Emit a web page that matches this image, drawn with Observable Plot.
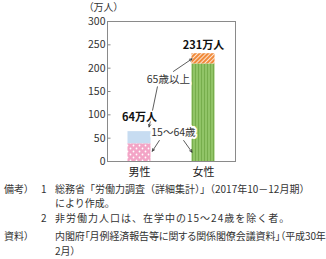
<!DOCTYPE html>
<html><head><meta charset="utf-8">
<script src="https://cdn.jsdelivr.net/npm/d3@7"></script>
<script src="https://cdn.jsdelivr.net/npm/@observablehq/plot@0.6"></script>
<style>
html,body{margin:0;padding:0;background:#fff;}
body{width:326px;height:259px;overflow:hidden;font-family:"Noto Sans CJK JP","Noto Sans",sans-serif;color:#333;}
#wrap{position:relative;width:326px;height:259px;}
.fn{position:absolute;font-size:10px;line-height:11px;white-space:nowrap;color:#333;}
.palt{font-feature-settings:"palt";}
svg text{font-feature-settings:"palt";}
</style></head>
<body><div id="wrap"><div id="chart"></div></div>
<script>
const categories = ["男性", "女性"];
const age1564 = [38, 209];
const age65plus = [26, 22];
const totals = [64, 231];
const totalLabels = ["64万人", "231万人"];
const totalLabelY = [94, 248];
const yTicks = [0, 50, 100, 150, 200, 250, 300];
const groupLabels = [
  {text: "65歳以上", x: 0.95, y: 176},
  {text: "15～64歳", x: 1.03, y: 62}
];
const arrows = [
  {x1: 1.03, y1: 193, x2: 1.32, y2: 220},
  {x1: 0.78, y1: 160, x2: 0.65, y2: 74},
  {x1: 0.81, y1: 45, x2: 0.70, y2: 22},
  {x1: 1.19, y1: 45, x2: 1.32, y2: 20}
];

const half = 0.18;
const rows = categories.map((c, i) => ({
  c, i, cx: i + 0.5, a: age1564[i], b: age1564[i] + age65plus[i], total: totals[i],
  label: totalLabels[i], ly: totalLabelY[i]
}));

const svg = Plot.plot({
  width: 326, height: 182,
  marginLeft: 107, marginRight: 91, marginTop: 21, marginBottom: 21,
  style: {fontFamily: '"Noto Sans CJK JP", sans-serif', fontSize: "10px", color: "#333", background: "transparent"},
  x: {type: "linear", domain: [0, 2], axis: null},
  y: {domain: [0, 300], axis: null},
  marks: [
    Plot.rectY([rows[0]], {x1: d => d.cx - half, x2: d => d.cx + half, y1: 0, y2: "a", fill: "url(#pinkDots)"}),
    Plot.rectY([rows[0]], {x1: d => d.cx - half, x2: d => d.cx + half, y1: "a", y2: "b", fill: "#c7dcf1"}),
    Plot.rectY([rows[1]], {x1: d => d.cx - half, x2: d => d.cx + half, y1: 0, y2: "a", fill: "url(#greenStripes)"}),
    Plot.rectY([rows[1]], {x1: d => d.cx - half, x2: d => d.cx + half, y1: "a", y2: "b", fill: "url(#orangeHatch)"}),
    Plot.ruleY(yTicks.slice(1, -1), {x1: 0, x2: 0.055, stroke: "#8a8a8a", strokeWidth: 1}),
    Plot.frame({stroke: "#8a8a8a", strokeWidth: 1}),
    Plot.axisY({ticks: yTicks, tickSize: 0, tickPadding: 2, fontSize: 10.5, fill: "#333"}),
    Plot.axisX({ticks: rows.map(d => d.cx), tickFormat: d => categories[Math.round(d - 0.5)], tickSize: 0, tickPadding: 7, fontSize: 11, fill: "#222"}),
    Plot.text(["（万人）"], {x: 0, y: 300, dy: -14, dx: -4, text: d => d, fontSize: 10, fill: "#333"}),
    Plot.arrow(arrows, {x1: "x1", y1: "y1", x2: "x2", y2: "y2", stroke: "#333", strokeWidth: 0.8, headLength: 5, headAngle: 50}),
    Plot.text(rows, {x: "cx", y: "ly", text: "label", fontSize: 11, fontWeight: "bold", fill: "#111", stroke: "white", strokeWidth: 3}),
    Plot.text(groupLabels, {x: "x", y: "y", text: "text", fontSize: 10.5, fill: "#333", stroke: "white", strokeWidth: 4})
  ]
});

const defs = d3.select(svg).insert("defs", ":first-child");
const p1 = defs.append("pattern").attr("id", "pinkDots").attr("patternUnits", "userSpaceOnUse").attr("width", 6).attr("height", 6);
p1.append("rect").attr("width", 6).attr("height", 6).attr("fill", "#f3a4c6");
p1.append("circle").attr("cx", 1.5).attr("cy", 1.5).attr("r", 0.9).attr("fill", "#fff");
p1.append("circle").attr("cx", 4.5).attr("cy", 4.5).attr("r", 0.9).attr("fill", "#fff");
const p2 = defs.append("pattern").attr("id", "greenStripes").attr("patternUnits", "userSpaceOnUse").attr("width", 3).attr("height", 6);
p2.append("rect").attr("width", 3).attr("height", 6).attr("fill", "#91c467");
p2.append("rect").attr("width", 1).attr("height", 6).attr("fill", "#77ad4c");
const p3 = defs.append("pattern").attr("id", "orangeHatch").attr("patternUnits", "userSpaceOnUse").attr("width", 3).attr("height", 3).attr("patternTransform", "rotate(45)");
p3.append("rect").attr("width", 3).attr("height", 3).attr("fill", "#f08a3a");
p3.append("rect").attr("width", 1).attr("height", 3).attr("fill", "#fde3cf");

const chart = document.getElementById("chart");
chart.appendChild(svg);
chart.style.position = "absolute";
chart.style.top = "0";
chart.style.left = "0";

const notes = [
  {t: "備考）", x: 4, y: 183, c: "palt"}, {t: "1", x: 41, y: 183, c: ""},
  {t: "総務省「労働力調査（詳細集計）」（2017年10－12月期）", x: 55, y: 183, c: ""},
  {t: "により作成。", x: 55, y: 197, c: ""},
  {t: "2", x: 41, y: 212, c: ""},
  {t: "非労働力人口は、在学中の15～24歳を除く者。", x: 55, y: 212, c: "", ls: 1},
  {t: "資料）", x: 4, y: 230, c: "palt"},
  {t: "内閣府「月例経済報告等に関する関係閣僚会議資料」（平成30年", x: 55, y: 230, c: "palt", ls: -0.1},
  {t: "2月）", x: 55, y: 245, c: "palt"}
];
const wrap = document.getElementById("wrap");
notes.forEach(n => {
  const d = document.createElement("div");
  d.className = "fn " + n.c; d.textContent = n.t;
  d.style.left = n.x + "px"; d.style.top = n.y + "px";
  if (n.ls) d.style.letterSpacing = n.ls + "px";
  wrap.appendChild(d);
});
</script></body></html>
